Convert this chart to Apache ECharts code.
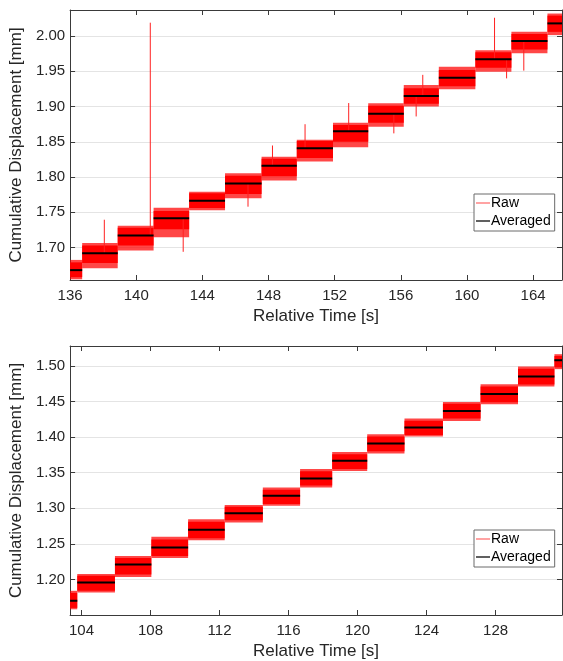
<!DOCTYPE html>
<html>
<head>
<meta charset="utf-8">
<script src="https://cdn.jsdelivr.net/npm/echarts@6/dist/echarts.min.js"></script>
<style>
  html, body { margin: 0; padding: 0; background: #fff; }
  #chart { width: 563px; height: 661px; }
</style>
</head>
<body>
<div id="chart"></div>
<script>
// top panel: step edges [s], averaged level and raw envelope [mm]
const topEdges = [135.9, 136.73, 138.88, 141.05, 143.2, 145.37, 147.58, 149.71, 151.9, 154.03, 156.18, 158.3, 160.51, 162.69, 164.87, 165.8];
const topAvg = [1.668, 1.692, 1.717, 1.7415, 1.7665, 1.791, 1.816, 1.841, 1.865, 1.890, 1.915, 1.941, 1.967, 1.993, 2.018];
const topHi = [1.6825, 1.7066, 1.731, 1.7566, 1.7793, 1.8054, 1.829, 1.853, 1.877, 1.9046, 1.9305, 1.9565, 1.980, 2.006, 2.032];
const topLo = [1.655, 1.6707, 1.6957, 1.7147, 1.753, 1.770, 1.795, 1.822, 1.8422, 1.8714, 1.900, 1.9245, 1.9494, 1.9755, 2.0014];
const topCoreHi = [1.679, 1.703, 1.728, 1.752, 1.777, 1.802, 1.826, 1.851, 1.874, 1.901, 1.926, 1.952, 1.977, 2.003, 2.029];
const topCoreLo = [1.658, 1.678, 1.703, 1.726, 1.756, 1.776, 1.801, 1.827, 1.850, 1.877, 1.904, 1.929, 1.955, 1.981, 2.006];
const topSpikeT = [138.07, 140.85, 142.84, 146.76, 148.24, 150.21, 152.85, 155.58, 156.93, 157.33, 161.67, 162.4, 163.44];
const topSpikeV = [1.7395, 2.019, 1.694, 1.758, 1.8448, 1.875, 1.905, 1.862, 1.886, 1.945, 2.026, 1.940, 1.951];
const topXTicks = [136, 140, 144, 148, 152, 156, 160, 164];
const topYTicks = [1.70, 1.75, 1.80, 1.85, 1.90, 1.95, 2.00];

// bottom panel
const botEdges = [103.3, 103.755, 105.94, 108.05, 110.18, 112.30, 114.51, 116.67, 118.53, 120.56, 122.72, 124.95, 127.13, 129.30, 131.41, 131.9];
const botAvg = [1.170, 1.1958, 1.221, 1.245, 1.2697, 1.2931, 1.3174, 1.3418, 1.3666, 1.391, 1.4135, 1.4368, 1.4607, 1.4851, 1.508];
const botHi = [1.184, 1.2075, 1.233, 1.260, 1.2847, 1.3044, 1.329, 1.355, 1.379, 1.404, 1.426, 1.4494, 1.4743, 1.4992, 1.5165];
const botLo = [1.158, 1.1817, 1.2035, 1.230, 1.255, 1.280, 1.3034, 1.329, 1.3525, 1.377, 1.4008, 1.4227, 1.4462, 1.471, 1.4955];
const botCoreHi = [1.181, 1.205, 1.230, 1.256, 1.281, 1.302, 1.326, 1.352, 1.376, 1.401, 1.423, 1.447, 1.471, 1.496, 1.514];
const botCoreLo = [1.160, 1.184, 1.207, 1.233, 1.258, 1.283, 1.306, 1.332, 1.355, 1.380, 1.403, 1.426, 1.449, 1.474, 1.498];
const botSpikeT = [];
const botSpikeV = [];
const botXTicks = [104, 108, 112, 116, 120, 124, 128];
const botYTicks = [1.20, 1.25, 1.30, 1.35, 1.40, 1.45, 1.50];

const FONT = "'Liberation Sans', Arial, sans-serif";
const AXIS_COLOR = "#3a3a3a";

const chart = echarts.init(document.getElementById("chart"));

function area(params) {
  const c = params.coordSys;
  return { x: c.x, y: c.y, width: c.width, height: c.height };
}

function bandItem(params, api) {
  const a = api.coord([api.value(0), api.value(3)]);
  const b = api.coord([api.value(1), api.value(2)]);
  const shape = echarts.graphic.clipRectByRect(
    { x: a[0], y: a[1], width: b[0] - a[0], height: b[1] - a[1] },
    area(params)
  );
  return shape && { type: "rect", shape: shape, style: api.style() };
}

function segItem(width) {
  return function (params, api) {
    const pts = echarts.graphic.clipPointsByRect(
      [api.coord([api.value(0), api.value(2)]), api.coord([api.value(1), api.value(3)])],
      area(params)
    );
    return {
      type: "line",
      shape: { x1: pts[0][0], y1: pts[0][1], x2: pts[1][0], y2: pts[1][1] },
      style: { stroke: api.visual("color"), lineWidth: width, fill: null }
    };
  };
}

function bands(edges, lo, hi) {
  return lo.map((v, i) => [edges[i], edges[i + 1], v, hi[i]]);
}
function levels(edges, avg) {
  return avg.map((v, i) => [edges[i], edges[i + 1], v, v]);
}
function spikes(edges, avg, ts, vs) {
  return ts.map((t, i) => {
    const k = edges.findIndex((e, j) => t >= e && t < edges[j + 1]);
    return [t, t, avg[k], vs[i]];
  });
}

function panelSeries(idx, edges, avg, lo, hi, coreLo, coreHi, sT, sV) {
  const ax = { xAxisIndex: idx * 2, yAxisIndex: idx * 2 };
  return [
    Object.assign({
      name: "Raw", type: "custom", renderItem: bandItem,
      itemStyle: { color: "#ff0000", opacity: 0.72 },
      encode: { x: [0, 1], y: [2, 3] },
      data: bands(edges, lo, hi)
    }, ax),
    Object.assign({
      name: "Raw", type: "custom", renderItem: bandItem,
      itemStyle: { color: "#ff0000" },
      encode: { x: [0, 1], y: [2, 3] },
      data: bands(edges, coreLo, coreHi)
    }, ax),
    Object.assign({
      name: "Raw", type: "custom", renderItem: segItem(1),
      itemStyle: { color: "#ff2020" },
      encode: { x: [0, 1], y: [2, 3] },
      data: spikes(edges, avg, sT, sV)
    }, ax),
    Object.assign({
      name: "Averaged", type: "custom", renderItem: segItem(2),
      itemStyle: { color: "#000000" },
      encode: { x: [0, 1], y: [2, 3] },
      data: levels(edges, avg)
    }, ax)
  ];
}

function xAxes(grid, min, max, ticks) {
  const tick = { show: true, inside: true, length: 5, customValues: ticks, lineStyle: { color: AXIS_COLOR } };
  return [
    {
      type: "value", gridIndex: grid, min: min, max: max, position: "bottom",
      axisLine: { lineStyle: { color: AXIS_COLOR } },
      axisTick: tick,
      axisLabel: { customValues: ticks, margin: 8, fontSize: 15, fontFamily: FONT, color: "#262626" },
      splitLine: { show: false },
      name: "Relative Time [s]", nameLocation: "middle", nameGap: 28,
      nameTextStyle: { fontSize: 17, fontFamily: FONT, color: "#262626" }
    },
    {
      type: "value", gridIndex: grid, min: min, max: max, position: "top",
      axisLine: { lineStyle: { color: AXIS_COLOR } },
      axisTick: tick, axisLabel: { show: false }, splitLine: { show: false }
    }
  ];
}

function yAxes(grid, min, max, ticks) {
  const tick = { show: true, inside: true, length: 5, customValues: ticks, lineStyle: { color: AXIS_COLOR } };
  return [
    {
      type: "value", gridIndex: grid, min: min, max: max, position: "left",
      axisLine: { show: true, lineStyle: { color: AXIS_COLOR } },
      axisTick: tick,
      axisLabel: { customValues: ticks, margin: 5, fontSize: 15, fontFamily: FONT, color: "#262626",
        formatter: (v) => v.toFixed(2) },
      splitLine: { show: true, lineStyle: { color: "#e4e4e4" } },
      name: "Cumulative Displacement [mm]", nameLocation: "middle", nameGap: 37,
      nameTextStyle: { fontSize: 17, fontFamily: FONT, color: "#262626" }
    },
    {
      type: "value", gridIndex: grid, min: min, max: max, position: "right",
      axisLine: { show: true, lineStyle: { color: AXIS_COLOR } },
      axisTick: tick, axisLabel: { show: false }, splitLine: { show: false }
    }
  ];
}

function legend(top) {
  return {
    orient: "vertical", left: 474, top: top, selectedMode: false,
    backgroundColor: "#fff", borderColor: "#6a6a6a", borderWidth: 1,
    padding: [2, 4, 3, 2], itemWidth: 14, itemHeight: 2, itemGap: 4,
    textStyle: { fontSize: 14, fontFamily: FONT, color: "#000", padding: [0, 0, 0, -4] },
    data: [
      { name: "Raw", icon: "rect", itemStyle: { color: "#ff7f7f" } },
      { name: "Averaged", icon: "rect", itemStyle: { color: "#606060" } }
    ]
  };
}

const option = {
  animation: false,
  backgroundColor: "#fff",
  grid: [
    { left: 62, top: 10, width: 500, height: 270 },
    { left: 62, top: 346, width: 500, height: 270 }
  ],
  xAxis: [].concat(xAxes(0, 136, 165.75, topXTicks), xAxes(1, 103.34, 131.85, botXTicks)),
  yAxis: [].concat(yAxes(0, 1.654, 2.037, topYTicks), yAxes(1, 1.15, 1.528, botYTicks)),
  legend: [legend(194), legend(530)],
  series: [].concat(
    panelSeries(0, topEdges, topAvg, topLo, topHi, topCoreLo, topCoreHi, topSpikeT, topSpikeV),
    panelSeries(1, botEdges, botAvg, botLo, botHi, botCoreLo, botCoreHi, botSpikeT, botSpikeV)
  )
};

chart.setOption(option);
</script>
</body>
</html>
